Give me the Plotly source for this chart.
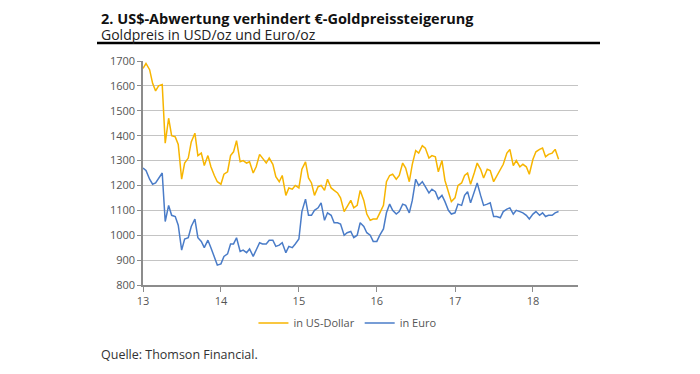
import pandas as pd
import plotly.graph_objects as go

# Semi-monthly observations (1st and 15th of each month), Jan 2013 - May 2018
usd = [
    # 2013
    1670, 1690, 1665, 1610, 1580, 1600, 1605, 1370, 1470, 1400, 1395, 1365,
    1225, 1290, 1310, 1375, 1410, 1320, 1330, 1280, 1320, 1275, 1240, 1215,
    # 2014
    1205, 1245, 1255, 1320, 1335, 1380, 1295, 1300, 1290, 1295, 1250, 1275,
    1325, 1310, 1290, 1310, 1285, 1235, 1215, 1240, 1160, 1190, 1185, 1200,
    # 2015
    1190, 1265, 1295, 1230, 1210, 1160, 1195, 1200, 1180, 1225, 1190, 1180,
    1170, 1150, 1095, 1115, 1140, 1110, 1120, 1180, 1140, 1085, 1060, 1065,
    # 2016
    1065, 1090, 1120, 1215, 1240, 1245, 1225, 1240, 1290, 1270, 1215, 1285,
    1340, 1330, 1360, 1350, 1310, 1320, 1315, 1255, 1300, 1220, 1175, 1135,
    # 2017
    1150, 1200, 1210, 1240, 1250, 1205, 1250, 1290, 1265, 1230, 1265, 1260,
    1215, 1235, 1265, 1285, 1330, 1345, 1280, 1300, 1275, 1285, 1275, 1245,
    # 2018
    1305, 1335, 1345, 1350, 1315, 1325, 1330, 1345, 1305,
]
eur = [
    # 2013
    1270, 1260, 1225, 1205, 1210, 1230, 1250, 1055, 1120, 1080, 1075, 1040,
    940, 985, 990, 1035, 1065, 990, 975, 950, 980, 950, 915, 880,
    # 2014
    885, 915, 925, 965, 965, 990, 935, 940, 930, 945, 915, 940,
    970, 965, 965, 980, 980, 955, 960, 970, 930, 955, 950, 965,
    # 2015
    985, 1095, 1145, 1080, 1080, 1100, 1110, 1130, 1060, 1090, 1080, 1050,
    1050, 1045, 1000, 1010, 1015, 990, 1000, 1050, 1035, 1010, 1000, 975,
    # 2016
    975, 1000, 1025, 1090, 1125, 1100, 1085, 1095, 1125, 1120, 1090, 1140,
    1225, 1200, 1215, 1195, 1170, 1185, 1175, 1145, 1160, 1135, 1100, 1085,
    # 2017
    1090, 1125, 1120, 1160, 1175, 1130, 1170, 1210, 1160, 1120, 1125, 1130,
    1075, 1075, 1070, 1095, 1105, 1110, 1085, 1100, 1095, 1090, 1080, 1065,
    # 2018
    1085, 1095, 1080, 1090, 1075, 1080, 1080, 1090, 1095,
]
dates = pd.date_range("2013-01-01", periods=len(usd), freq="SMS")

series_names = ["in US-Dollar", "in Euro"]
series_colors = ["#f7b500", "#4a7cc8"]
year_ticks = ["2013-01-01", "2014-01-01", "2015-01-01", "2016-01-01", "2017-01-01", "2018-01-01"]
year_labels = ["13", "14", "15", "16", "17", "18"]
y_ticks = [800, 900, 1000, 1100, 1200, 1300, 1400, 1500, 1600, 1700]

fig = go.Figure()
for name, vals, col in zip(series_names, [usd, eur], series_colors):
    fig.add_trace(go.Scatter(x=dates, y=vals, mode="lines", name=name,
                             line=dict(color=col, width=1.5)))

# page has an 8px body margin, so the figure is drawn 8px in from the corner
fig.update_layout(
    width=692, height=366,
    margin=dict(l=135, r=122, t=53, b=89),
    paper_bgcolor="white", plot_bgcolor="white",
    font=dict(family="Open Sans", color="#555555", size=11),
    showlegend=True,
    legend=dict(orientation="h", x=0.47, xanchor="center", y=-0.17, yanchor="middle",
                font=dict(size=11, color="#555555"), itemwidth=30,
                bgcolor="rgba(0,0,0,0)"),
    xaxis=dict(type="date", range=["2013-01-01", "2018-07-31"],
               tickvals=year_ticks, ticktext=year_labels,
               showgrid=False, showline=True, linecolor="#8c8c8c", linewidth=1.5,
               ticks="outside", ticklen=5, tickcolor="#8c8c8c",
               tickfont=dict(size=11, color="#555555"), zeroline=False),
    yaxis=dict(range=[800, 1700], tickvals=y_ticks,
               showgrid=True, gridcolor="#c4c4c4", gridwidth=1,
               showline=True, linecolor="#8c8c8c", linewidth=1.5,
               ticks="outside", ticklen=4, tickcolor="#8c8c8c",
               tickfont=dict(size=11, color="#555555"), zeroline=False),
)

fig.add_annotation(
    text=("<span style='font-size:14.5px;color:#111111'><b>2. US$-Abwertung verhindert €-Goldpreissteigerung</b></span>"
          "<br><span style='font-size:14px;color:#222222'>Goldpreis in USD/oz und Euro/oz</span>"),
    xref="paper", yref="paper", x=(100 - 143) / 435, y=1 + 53 / 224,
    xanchor="left", yanchor="top", align="left", showarrow=False, borderpad=0,
    font=dict(family="Open Sans", size=12.5, color="#222222"))
fig.add_shape(type="line", xref="paper", yref="paper",
              x0=(97 - 143) / 435, x1=(600 - 143) / 435,
              y0=1 + (61 - 43) / 224, y1=1 + (61 - 43) / 224,
              line=dict(color="#000000", width=2.5))
fig.add_annotation(text="Quelle: Thomson Financial.",
                   xref="paper", yref="paper", x=(99 - 143) / 435, y=(285 - 354) / 224,
                   xanchor="left", yanchor="middle", showarrow=False,
                   font=dict(family="Open Sans", size=12.5, color="#333333"))

fig.write_html("out.html")
